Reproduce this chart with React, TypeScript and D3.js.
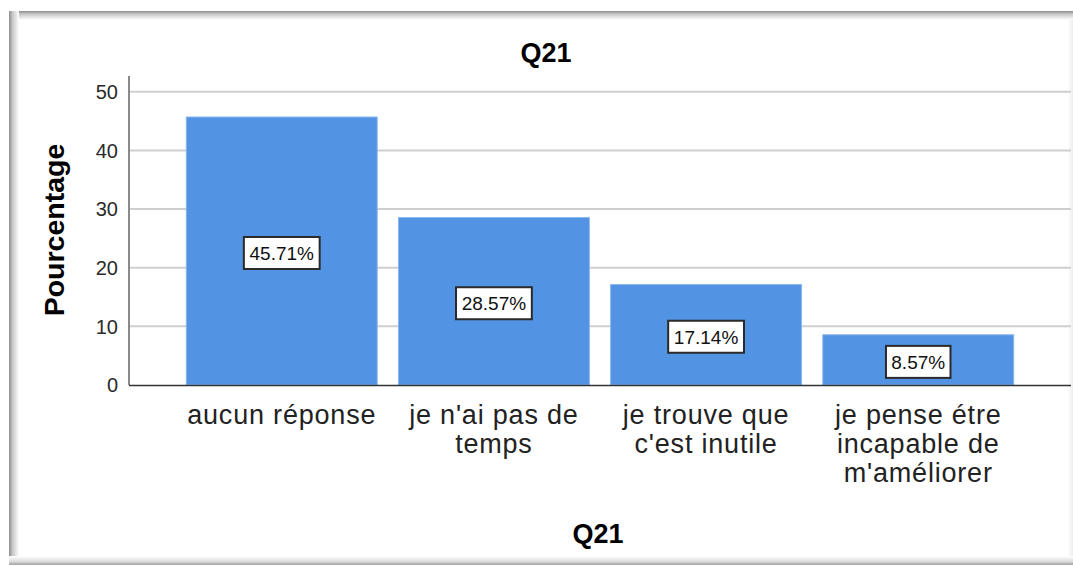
import React from "react";
import * as d3 from "d3";

const categories: string[][] = [
  ["aucun réponse"],
  ["je n'ai pas de", "temps"],
  ["je trouve que", "c'est inutile"],
  ["je pense étre", "incapable de", "m'améliorer"],
];
const values: number[] = [45.71, 28.57, 17.14, 8.57];
const yTicks: number[] = [0, 10, 20, 30, 40, 50];
const title = "Q21";
const xTitle = "Q21";
const yTitle = "Pourcentage";

const W = 1073;
const H = 565;
const FONT = "'Liberation Sans', Arial, sans-serif";

export default function App() {
  const x = d3
    .scaleBand<number>()
    .domain(values.map((_, i) => i))
    .range([129, 1071])
    .paddingInner(0.1)
    .paddingOuter(0.27);
  const y = d3.scaleLinear().domain([0, 52.7]).range([385, 76]);

  return (
    <svg
      width={W}
      height={H}
      style={{ position: "absolute", left: 0, top: 0, display: "block" }}
      fontFamily={FONT}
    >
      <defs>
        <linearGradient id="gTop" x1="0" y1="0" x2="0" y2="1">
          <stop offset="0" stopColor="#8c8c8c" />
          <stop offset="0.35" stopColor="#c8c8c8" />
          <stop offset="1" stopColor="#ffffff" />
        </linearGradient>
        <linearGradient id="gLeft" x1="0" y1="0" x2="1" y2="0">
          <stop offset="0" stopColor="#8c8c8c" />
          <stop offset="0.35" stopColor="#c8c8c8" />
          <stop offset="1" stopColor="#ffffff" />
        </linearGradient>
        <linearGradient id="gBottom" x1="0" y1="1" x2="0" y2="0">
          <stop offset="0" stopColor="#a0a0a0" />
          <stop offset="0.4" stopColor="#dedede" />
          <stop offset="1" stopColor="#ffffff" />
        </linearGradient>
        <linearGradient id="gRight" x1="1" y1="0" x2="0" y2="0">
          <stop offset="0" stopColor="#ededed" />
          <stop offset="1" stopColor="#ffffff" />
        </linearGradient>
      </defs>
      <rect x={0} y={0} width={W} height={H} fill="#ffffff" />
      {/* frame with inner shadow */}
      <rect x={9} y={11} width={W - 9} height={H - 11} fill="#ffffff" />
      <rect x={9} y={11} width={W - 9} height={9} fill="url(#gTop)" />
      <rect x={9} y={11} width={10} height={H - 11} fill="url(#gLeft)" />
      <rect x={9} y={H - 9} width={W - 9} height={9} fill="url(#gBottom)" />
      <rect x={W - 5} y={20} width={5} height={H - 29} fill="url(#gRight)" />

      {/* title */}
      <text x={546} y={62} textAnchor="middle" fontSize={27} fontWeight="bold" fill="#000">
        {title}
      </text>

      {/* grid lines */}
      {yTicks.slice(1).map((t) => (
        <line key={t} x1={129} x2={1071} y1={y(t)} y2={y(t)} stroke="#cfcfcf" strokeWidth={2} />
      ))}

      {/* y tick labels */}
      {yTicks.map((t) => (
        <text key={t} x={118} y={y(t)} dy="0.36em" textAnchor="end" fontSize={20} fill="#2a2a2a">
          {t}
        </text>
      ))}

      {/* bars */}
      {values.map((v, i) => (
        <rect
          key={i}
          x={x(i)!}
          y={y(v)}
          width={x.bandwidth()}
          height={y(0) - y(v)}
          fill="#5393e3"
          stroke="#8cb8f0"
          strokeWidth={1}
        />
      ))}

      {/* y axis line */}
      <line x1={129} x2={129} y1={76} y2={385} stroke="#8a8a8a" strokeWidth={2} />
      {/* baseline */}
      <line x1={129} x2={1071} y1={385.5} y2={385.5} stroke="#333" strokeWidth={1.5} />

      {/* value labels */}
      {values.map((v, i) => {
        const cx = x(i)! + x.bandwidth() / 2;
        const cy = (y(v) + y(0)) / 2 + 2;
        const label = v.toFixed(2) + "%";
        const w = label.length * 11.3 + 8;
        return (
          <g key={i}>
            <rect x={cx - w / 2} y={cy - 16} width={w} height={32} fill="#fff" stroke="#2a2a2a" strokeWidth={2} />
            <text x={cx} y={cy} dy="0.36em" textAnchor="middle" fontSize={19} fill="#111">
              {label}
            </text>
          </g>
        );
      })}

      {/* category labels */}
      {categories.map((lines, i) => {
        const cx = x(i)! + x.bandwidth() / 2;
        return (
          <text key={i} textAnchor="middle" fontSize={27} fill="#222" letterSpacing={0.8}>
            {lines.map((l, j) => (
              <tspan key={j} x={cx} y={424 + j * 29}>
                {l}
              </tspan>
            ))}
          </text>
        );
      })}

      {/* axis titles */}
      <text x={598} y={543} textAnchor="middle" fontSize={27} fontWeight="bold" fill="#000">
        {xTitle}
      </text>
      <text
        transform={`translate(64,230) rotate(-90)`}
        textAnchor="middle"
        fontSize={28.5}
        fontWeight="bold"
        fill="#000"
      >
        {yTitle}
      </text>
    </svg>
  );
}
